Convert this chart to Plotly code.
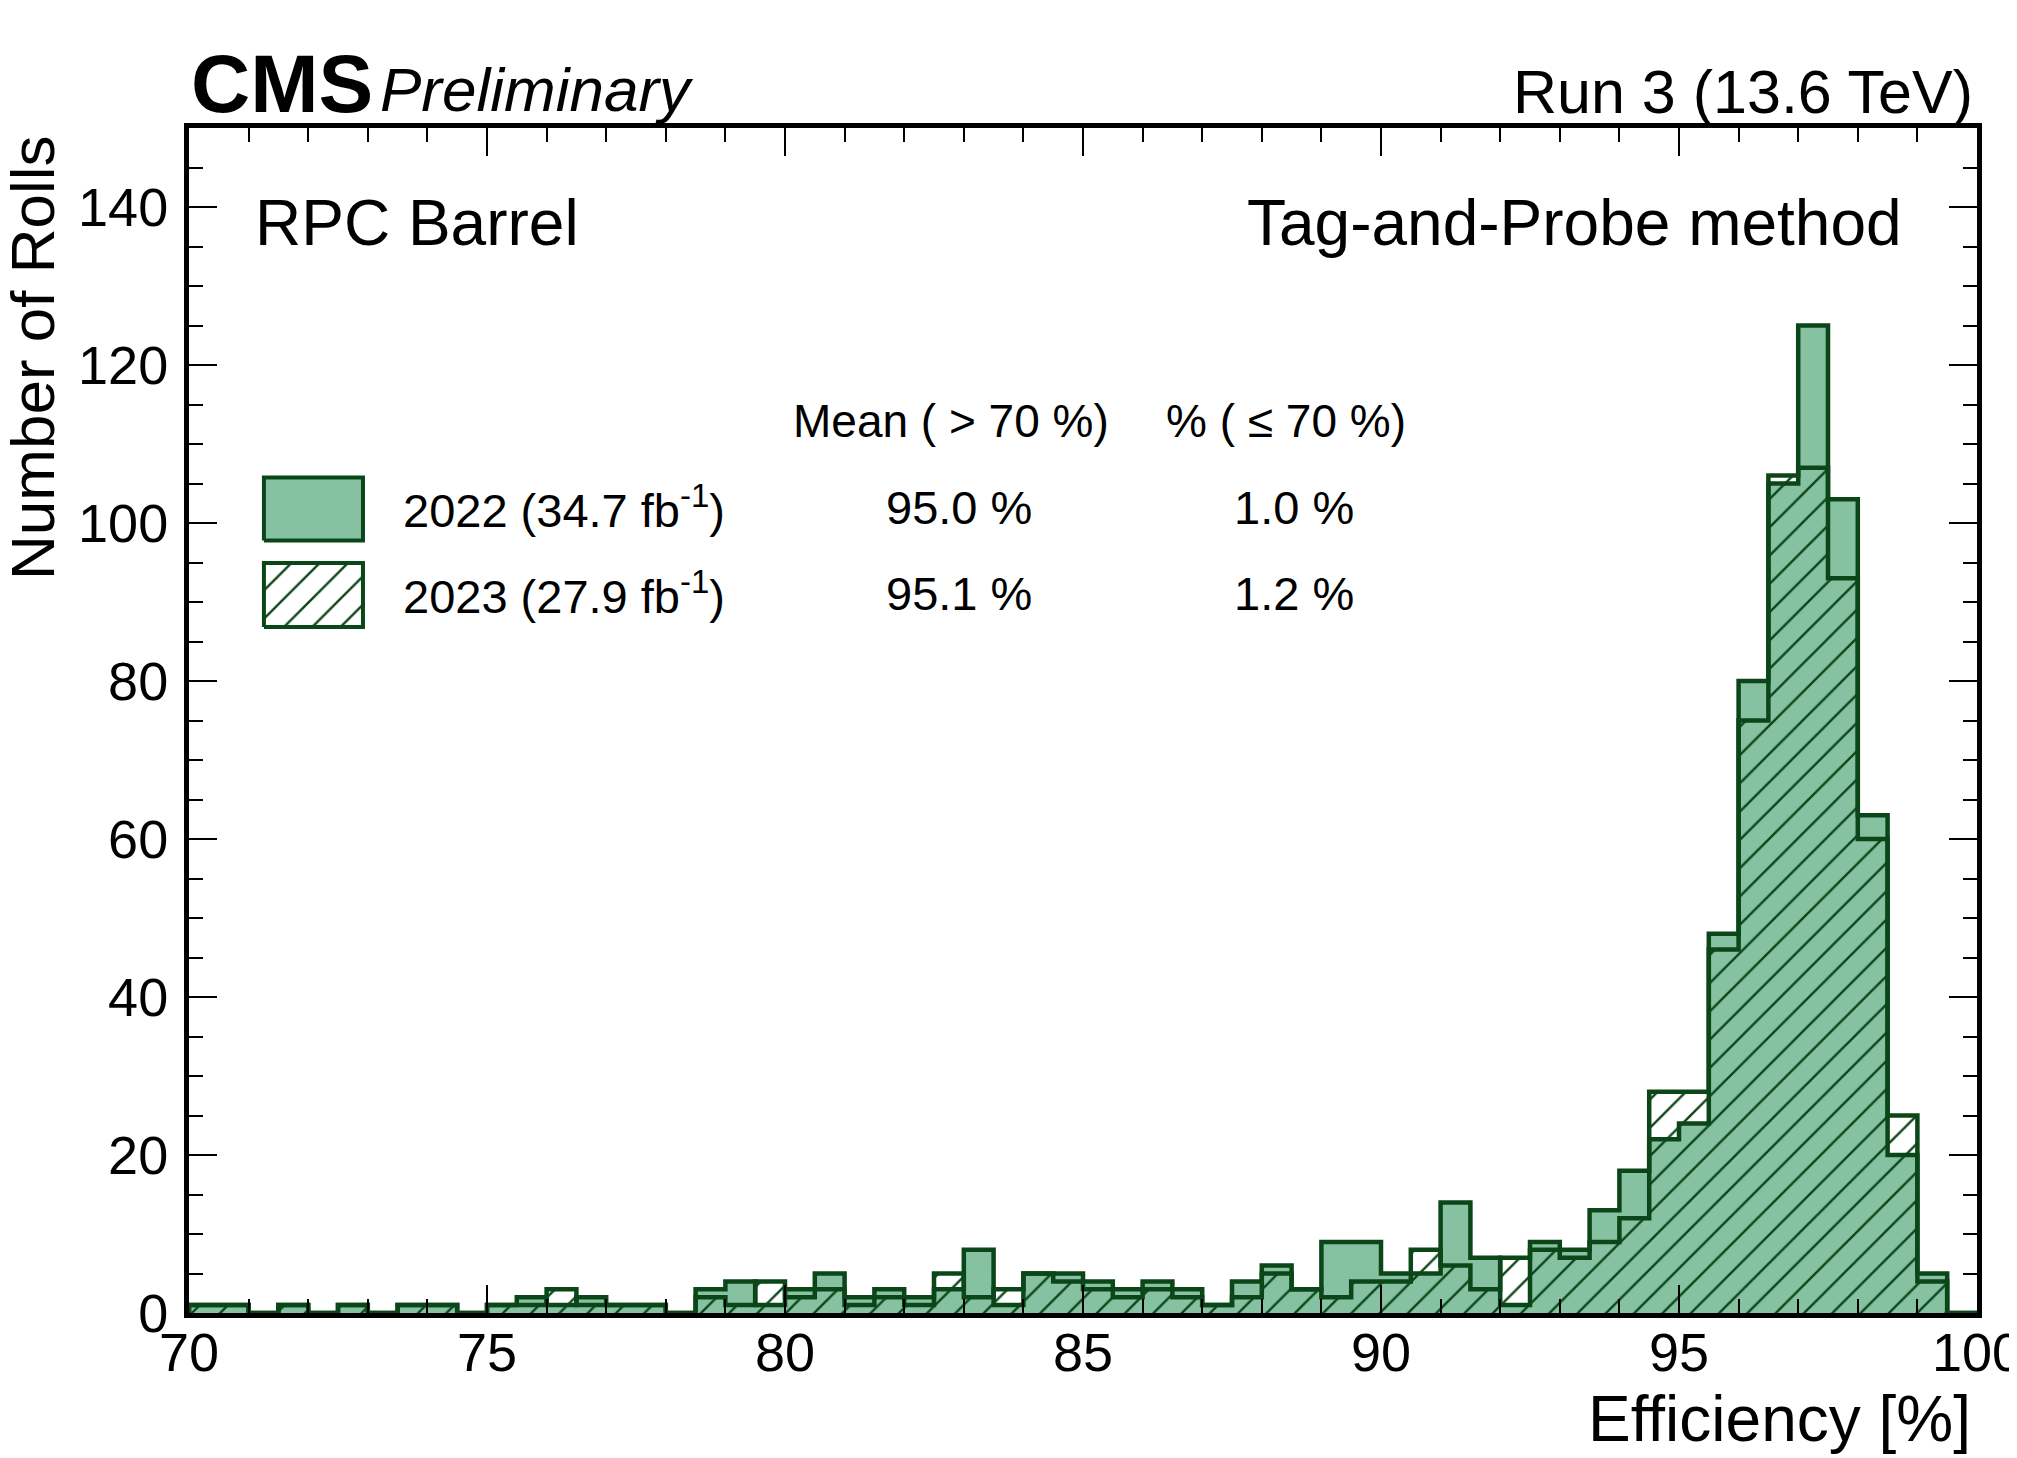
import plotly.graph_objects as go

# ---------------- data ----------------
x_low = 70.0
bin_width = 0.5
counts_2022 = [1, 1, 0, 1, 0, 1, 0, 1, 1, 0,
               1, 2, 1, 2, 1, 1, 0, 3, 4, 1,
               3, 5, 2, 3, 2, 3, 8, 1, 5, 5,
               4, 3, 4, 3, 1, 4, 6, 3, 9, 9,
               5, 5, 14, 7, 1, 9, 8, 13, 18, 22,
               24, 48, 80, 105, 125, 103, 63, 20, 5, 0]
counts_2023 = [1, 1, 0, 1, 0, 1, 0, 1, 1, 0,
               1, 1, 3, 1, 1, 1, 0, 2, 1, 4,
               2, 3, 1, 2, 1, 5, 2, 3, 5, 4,
               3, 2, 3, 2, 1, 2, 5, 3, 2, 4,
               4, 8, 6, 3, 7, 8, 7, 9, 12, 28,
               28, 46, 75, 106, 107, 93, 60, 25, 4, 0]
labels = ["2022 (34.7 fb<sup>-1</sup>)", "2023 (27.9 fb<sup>-1</sup>)"]
mean_above = ["95.0 %", "95.1 %"]
frac_below = ["1.0 %", "1.2 %"]
x_ticks = [70, 75, 80, 85, 90, 95, 100]
y_ticks = [0, 20, 40, 60, 80, 100, 120, 140]

# ---------------- styles ----------------
FILL = "#86c2a1"
EDGE = "#0b4619"
FONT = "Liberation Sans, Arial, Helvetica, sans-serif"

edges = [x_low + bin_width * i for i in range(len(counts_2022) + 1)]


def step_xy(counts):
    xs = [edges[0]] + edges[:-1] + [edges[-1], edges[-1]]
    ys = [0] + list(counts) + [counts[-1], 0]
    return xs, ys


fig = go.Figure()

x22, y22 = step_xy(counts_2022)
fig.add_trace(go.Scatter(
    x=x22, y=y22, mode="lines", line=dict(shape="hv", color=EDGE, width=4.5),
    fill="tozeroy", fillcolor=FILL, hoverinfo="skip", name=labels[0]))

x23, y23 = step_xy(counts_2023)
fig.add_trace(go.Scatter(
    x=x23, y=y23, mode="lines", line=dict(shape="hv", color=EDGE, width=4.5),
    fill="tozeroy", fillcolor="rgba(0,0,0,0)",
    fillpattern=dict(shape="/", fgcolor=EDGE, bgcolor="rgba(0,0,0,0)",
                     size=20, solidity=0.12, fillmode="replace"),
    hoverinfo="skip", name=labels[1]))

# legend swatches (in plot-area fraction coordinates on overlay axes)
sw_x = [0.0419, 0.0973]
sw_y = [[0.652, 0.705], [0.579, 0.633]]
for i in range(2):
    xs = [sw_x[0], sw_x[1], sw_x[1], sw_x[0], sw_x[0]]
    ys = [sw_y[i][0], sw_y[i][0], sw_y[i][1], sw_y[i][1], sw_y[i][0]]
    kw = dict(fillcolor=FILL) if i == 0 else dict(
        fillcolor="white",
        fillpattern=dict(shape="/", fgcolor=EDGE, bgcolor="white",
                         size=20, solidity=0.12, fillmode="replace"))
    fig.add_trace(go.Scatter(x=xs, y=ys, xaxis="x2", yaxis="y2", mode="lines",
                             line=dict(color=EDGE, width=4), fill="toself",
                             hoverinfo="skip", showlegend=False, **kw))

axis_common = dict(
    ticks="inside", tickwidth=2, tickcolor="black", ticklen=28,
    showline=True, linewidth=5, linecolor="black", mirror="allticks",
    showgrid=False, zeroline=False, tickfont=dict(size=54, family=FONT),
    ticklabeloverflow="allow",
)

# page body has an 8px margin -> compensate so the plot area sits at
# x 189..1977, y 128..1313 in the 2017x1458 window
fig.update_layout(
    width=2009, height=1450,
    margin=dict(l=181, r=40, t=120, b=145, autoexpand=False),
    plot_bgcolor="white", paper_bgcolor="white",
    font=dict(family=FONT, color="black", size=44),
    showlegend=False,
    xaxis=dict(range=[70, 100], tickvals=x_ticks, ticklabelstandoff=-12,
               minor=dict(dtick=1, tick0=70, ticks="inside", ticklen=14,
                          tickwidth=2, tickcolor="black", showgrid=False),
               **axis_common),
    yaxis=dict(range=[0, 150], tickvals=y_ticks, ticklabelstandoff=5,
               minor=dict(dtick=5, tick0=0, ticks="inside", ticklen=14,
                          tickwidth=2, tickcolor="black", showgrid=False),
               **axis_common),
    xaxis2=dict(overlaying="x", range=[0, 1], visible=False, anchor="y2"),
    yaxis2=dict(overlaying="y", range=[0, 1], visible=False, anchor="x2"),
)

ann = []
def text(t, x, y, size, xanchor="left", yanchor="middle", angle=0, fam=FONT):
    ann.append(dict(text=t, x=x, y=y, xref="paper", yref="paper",
                    xanchor=xanchor, yanchor=yanchor, showarrow=False,
                    textangle=angle, font=dict(size=size, family=fam, color="black")))

text("<b>CMS</b>", 0.0, 1.0376, 82)
text("<i>Preliminary</i>", 0.1057, 1.0326, 62)
text("Run 3 (13.6 TeV)", 0.9989, 1.0304, 61, xanchor="right")
text("RPC Barrel", 0.036, 0.9196, 64)
text("Tag-and-Probe method", 0.9592, 0.9196, 64, xanchor="right")
text("Efficiency [%]", 0.9975, -0.0895, 64, xanchor="right")
text("Number of Rolls", -0.0872, 0.806, 62, xanchor="center", angle=-90)

text("Mean ( > 70 %)", 0.4262, 0.7524, 46, xanchor="center")
text("% ( ≤ 70 %)", 0.6135, 0.7524, 46, xanchor="center")
row_y = [0.6798, 0.6072]
for i in range(2):
    text(labels[i], 0.1186, row_y[i], 47)
    text(mean_above[i], 0.4306, row_y[i], 47, xanchor="center")
    text(frac_below[i], 0.618, row_y[i], 47, xanchor="center")

fig.update_layout(annotations=ann)
fig.write_html("out.html")
